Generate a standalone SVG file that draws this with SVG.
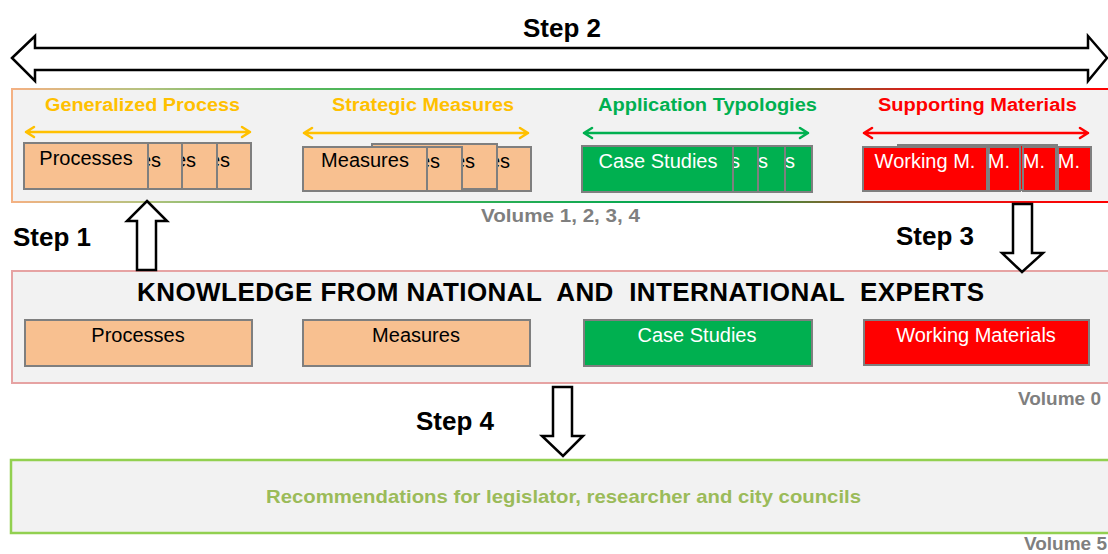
<svg xmlns="http://www.w3.org/2000/svg" width="1108" height="554" viewBox="0 0 1108 554">
<defs>
<linearGradient id="topBorder" gradientUnits="userSpaceOnUse" x1="12" y1="0" x2="1110" y2="0">
<stop offset="0" stop-color="#f4b183"/>
<stop offset="0.12" stop-color="#b5c27f"/>
<stop offset="0.25" stop-color="#5cb85c"/>
<stop offset="0.6" stop-color="#00a650"/>
<stop offset="0.72" stop-color="#5f7a35"/>
<stop offset="0.76" stop-color="#8b5a2b"/>
<stop offset="0.82" stop-color="#e01818"/>
<stop offset="1" stop-color="#ff0000"/>
</linearGradient>
<style>
text{font-family:"Liberation Sans",Arial,sans-serif}
.step{font-size:26px;font-weight:bold;fill:#000}
.title{font-size:18px;font-weight:bold}
.vol{font-size:19px;font-weight:bold;fill:#7f7f7f}
.bt{font-size:20px}
.blk{fill:#000}
.wht{fill:#fff}
.or{fill:#f8c090;stroke:#7f7f7f;stroke-width:2}
.gr{fill:#00b050;stroke:#7f7f7f;stroke-width:2}
.rd{fill:#ff0000;stroke:#7f7f7f;stroke-width:2}
.blockarrow{fill:#fff;stroke:#000;stroke-width:2.5;stroke-linejoin:miter}
.da{fill:none;stroke-width:2.5;stroke-linecap:round;stroke-linejoin:round}
</style>
</defs>

<g id="volume-1-4-panel">
<rect x="12" y="89" width="1100" height="113" fill="#f2f2f2" stroke="url(#topBorder)" stroke-width="2"/>
<text class="vol" x="481" y="222" textLength="159" lengthAdjust="spacingAndGlyphs">Volume 1, 2, 3, 4</text>
</g>

<g id="generalized-process">
<text class="title" x="45" y="111" fill="#ffc000" textLength="195" lengthAdjust="spacingAndGlyphs">Generalized Process</text>
<path class="da" stroke="#ffc000" d="M26,132 H250 M34,127 L26,132 L34,137 M242,127 L250,132 L242,137"/>
<rect class="or" x="200" y="143" width="51" height="46"/>
<text class="bt blk" x="230" y="167" text-anchor="end">es</text>
<rect class="or" x="166" y="143" width="51" height="46"/>
<text class="bt blk" x="196" y="167" text-anchor="end">es</text>
<rect class="or" x="132" y="143" width="50" height="46"/>
<text class="bt blk" x="161" y="167" text-anchor="end">es</text>
<rect class="or" x="24" y="143" width="124" height="46"/>
<text class="bt blk" x="86" y="165" text-anchor="middle">Processes</text>
</g>

<g id="strategic-measures">
<text class="title" x="332" y="111" fill="#ffc000" textLength="182" lengthAdjust="spacingAndGlyphs">Strategic Measures</text>
<path class="da" stroke="#ffc000" d="M304,133 H528 M312,128 L304,133 L312,138 M520,128 L528,133 L520,138"/>
<rect class="or" x="440" y="147" width="91" height="44"/>
<text class="bt blk" x="510" y="168" text-anchor="end">es</text>
<rect class="or" x="372" y="144" width="125" height="45"/>
<text class="bt blk" x="475" y="168" text-anchor="end">es</text>
<rect class="or" x="400" y="147" width="62" height="44"/>
<text class="bt blk" x="440" y="168" text-anchor="end">es</text>
<rect class="or" x="303" y="147" width="124" height="44"/>
<text class="bt blk" x="365" y="167" text-anchor="middle">Measures</text>
</g>

<g id="application-typologies">
<text class="title" x="598" y="111" fill="#00b050" textLength="219" lengthAdjust="spacingAndGlyphs">Application Typologies</text>
<path class="da" stroke="#00b050" d="M584,133 H808 M592,128 L584,133 L592,138 M800,128 L808,133 L800,138"/>
<rect class="gr" x="770" y="146" width="42" height="46"/>
<text class="bt wht" x="795" y="168" text-anchor="end">es</text>
<rect class="gr" x="740" y="146" width="45" height="46"/>
<text class="bt wht" x="768" y="168" text-anchor="end">es</text>
<rect class="gr" x="715" y="146" width="43" height="46"/>
<text class="bt wht" x="740" y="168" text-anchor="end">es</text>
<rect class="gr" x="582" y="146" width="151" height="46"/>
<text class="bt wht" x="658" y="168" text-anchor="middle">Case Studies</text>
</g>

<g id="supporting-materials">
<text class="title" x="878" y="111" fill="#ff0000" textLength="199" lengthAdjust="spacingAndGlyphs">Supporting Materials</text>
<path class="da" stroke="#ff0000" d="M864,133 H1088 M872,128 L864,133 L872,138 M1080,128 L1088,133 L1080,138"/>
<rect class="rd" x="898" y="145" width="159" height="45"/>
<rect class="rd" x="1058" y="147" width="33" height="44"/>
<text class="bt wht" x="1080" y="168" text-anchor="end">M.</text>
<rect class="rd" x="1023" y="147" width="33" height="44"/>
<text class="bt wht" x="1045" y="168" text-anchor="end">M.</text>
<rect class="rd" x="989" y="147" width="31" height="44"/>
<text class="bt wht" x="1010" y="168" text-anchor="end">M.</text>
<rect class="rd" x="863" y="147" width="124" height="44"/>
<text class="bt wht" x="925" y="168" text-anchor="middle">Working M.</text>
</g>

<g id="knowledge-panel">
<rect x="12" y="271" width="1100" height="112" fill="#f2f2f2" stroke="#e6a3a3" stroke-width="2"/>
<text x="137" y="301" font-size="26" font-weight="bold" fill="#000" textLength="847" lengthAdjust="spacing" xml:space="preserve">KNOWLEDGE FROM NATIONAL  AND  INTERNATIONAL  EXPERTS</text>
<text class="vol" x="1101" y="405" text-anchor="end">Volume 0</text>
</g>
<g id="k-processes">
<rect class="or" x="25" y="320" width="227" height="46"/>
<text class="bt blk" x="138" y="342" text-anchor="middle">Processes</text>
</g>
<g id="k-measures">
<rect class="or" x="303" y="320" width="227" height="46"/>
<text class="bt blk" x="416" y="342" text-anchor="middle">Measures</text>
</g>
<g id="k-case-studies">
<rect class="gr" x="584" y="320" width="228" height="46"/>
<text class="bt wht" x="697" y="342" text-anchor="middle">Case Studies</text>
</g>
<g id="k-working-materials">
<rect class="rd" x="864" y="320" width="225" height="45"/>
<text class="bt wht" x="976" y="342" text-anchor="middle">Working Materials</text>
</g>

<g id="recommendations-panel">
<rect x="11" y="460" width="1100" height="73" fill="#f2f2f2" stroke="#92d050" stroke-width="2.5"/>
<text x="266" y="503" font-size="19" font-weight="bold" fill="#9bbb59" textLength="595" lengthAdjust="spacingAndGlyphs">Recommendations for legislator, researcher and city councils</text>
<text class="vol" x="1107" y="550" text-anchor="end">Volume 5</text>
</g>

<g id="connectors">
<polygon class="blockarrow" points="12,58 35,36 35,48 1088,48 1088,36 1107,58 1088,81 1088,70 35,70 35,81"/>
<text class="step" x="562" y="37" text-anchor="middle">Step 2</text>
<polygon class="blockarrow" points="147,201 167,221 156,221 156,270 137,270 137,221 127,221"/>
<text class="step" x="13" y="246">Step 1</text>
<polygon class="blockarrow" points="1013,204 1032,204 1032,253 1043,253 1022,272 1002,253 1013,253"/>
<text class="step" x="896" y="245">Step 3</text>
<polygon class="blockarrow" points="553,387 572,387 572,436 583,436 563,456 542,436 553,436"/>
<text class="step" x="416" y="430">Step 4</text>
</g>
</svg>
